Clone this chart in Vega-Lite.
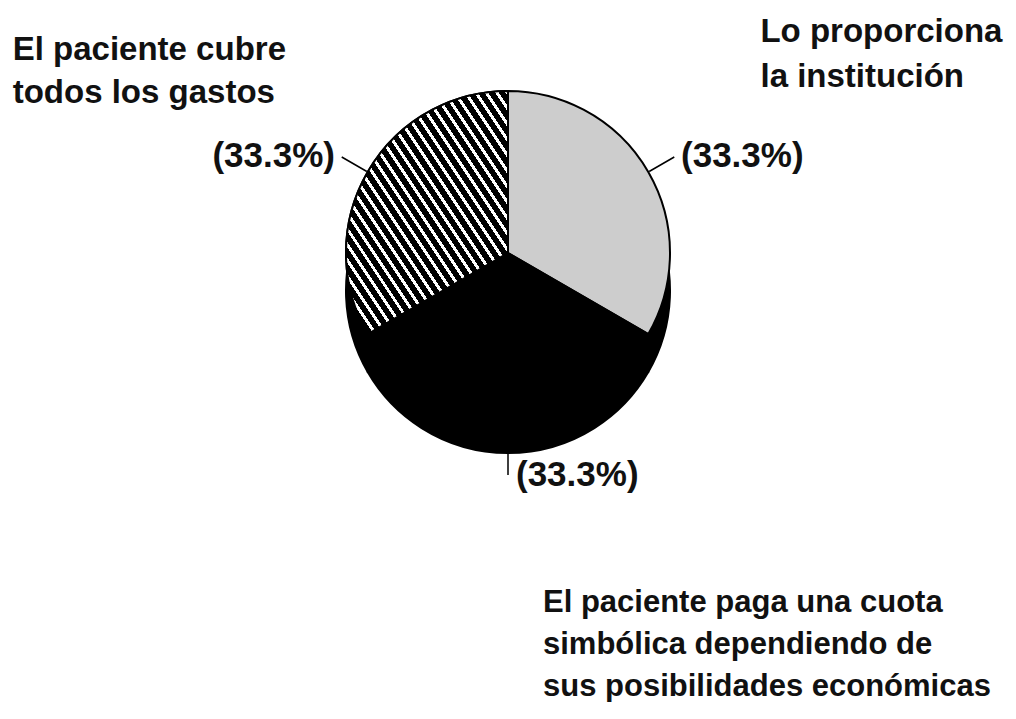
{
  "$schema": "https://vega.github.io/schema/vega-lite/v6.json",
  "width": 1016,
  "height": 506,
  "padding": 0,
  "background": "#ffffff",
  "config": {"view": {"stroke": null}, "font": "Liberation Sans"},
  "data": {
    "values": [
      {"categoria": "Lo proporciona la institución", "etiqueta": "Lo proporciona\nla institución", "valor": 33.3},
      {"categoria": "El paciente paga una cuota simbólica dependiendo de sus posibilidades económicas", "etiqueta": "El paciente paga una cuota\nsimbólica dependiendo de\nsus posibilidades económicas", "valor": 33.3},
      {"categoria": "El paciente cubre todos los gastos", "etiqueta": "El paciente cubre\ntodos los gastos", "valor": 33.3}
    ]
  },
  "transform": [
    {"stack": "valor", "groupby": [], "offset": "normalize", "sort": [{"field": "categoria", "order": "descending"}], "as": ["v0", "v1"]},
    {"calculate": "(datum.v0 + datum.v1) / 2", "as": "vmid"},
    {"calculate": "'(' + format(datum.valor, '.1f') + '%)'", "as": "pct"}
  ],
  "layer": [
    {
      "mark": {"type": "arc", "radius": 162, "yOffset": 38, "fill": "#000000", "stroke": "#000000", "strokeWidth": 2},
      "encoding": {
        "theta": {"field": "v0", "type": "quantitative", "scale": {"domain": [0, 1]}},
        "theta2": {"field": "v1"}
      }
    },
    {
      "mark": {"type": "arc", "radius": 162, "stroke": "#000000", "strokeWidth": 2},
      "encoding": {
        "theta": {"field": "v0", "type": "quantitative", "scale": {"domain": [0, 1]}},
        "theta2": {"field": "v1"},
        "color": {
          "field": "categoria",
          "type": "nominal",
          "legend": null,
          "scale": {
            "domain": ["Lo proporciona la institución", "El paciente paga una cuota simbólica dependiendo de sus posibilidades económicas", "El paciente cubre todos los gastos"],
            "range": ["#cdcdcd", "#000000", "#4d4d4d"]
          }
        }
      }
    },
    {
      "transform": [{"filter": "datum.categoria === 'El paciente cubre todos los gastos'"}],
      "mark": {
        "type": "arc",
        "radius": 162,
        "stroke": "#000000",
        "strokeWidth": 2,
        "fill": {
          "gradient": "linear",
          "x1": 0, "y1": 1, "x2": 1, "y2": 0,
          "stops": [
            {"offset": 0, "color": "#000"}, {"offset": 0.02097, "color": "#000"}, {"offset": 0.02097, "color": "#fff"}, {"offset": 0.03226, "color": "#fff"},
            {"offset": 0.03226, "color": "#000"}, {"offset": 0.05323, "color": "#000"}, {"offset": 0.05323, "color": "#fff"}, {"offset": 0.06452, "color": "#fff"},
            {"offset": 0.06452, "color": "#000"}, {"offset": 0.08548, "color": "#000"}, {"offset": 0.08548, "color": "#fff"}, {"offset": 0.09677, "color": "#fff"},
            {"offset": 0.09677, "color": "#000"}, {"offset": 0.11774, "color": "#000"}, {"offset": 0.11774, "color": "#fff"}, {"offset": 0.12903, "color": "#fff"},
            {"offset": 0.12903, "color": "#000"}, {"offset": 0.15, "color": "#000"}, {"offset": 0.15, "color": "#fff"}, {"offset": 0.16129, "color": "#fff"},
            {"offset": 0.16129, "color": "#000"}, {"offset": 0.18226, "color": "#000"}, {"offset": 0.18226, "color": "#fff"}, {"offset": 0.19355, "color": "#fff"},
            {"offset": 0.19355, "color": "#000"}, {"offset": 0.21452, "color": "#000"}, {"offset": 0.21452, "color": "#fff"}, {"offset": 0.22581, "color": "#fff"},
            {"offset": 0.22581, "color": "#000"}, {"offset": 0.24677, "color": "#000"}, {"offset": 0.24677, "color": "#fff"}, {"offset": 0.25806, "color": "#fff"},
            {"offset": 0.25806, "color": "#000"}, {"offset": 0.27903, "color": "#000"}, {"offset": 0.27903, "color": "#fff"}, {"offset": 0.29032, "color": "#fff"},
            {"offset": 0.29032, "color": "#000"}, {"offset": 0.31129, "color": "#000"}, {"offset": 0.31129, "color": "#fff"}, {"offset": 0.32258, "color": "#fff"},
            {"offset": 0.32258, "color": "#000"}, {"offset": 0.34355, "color": "#000"}, {"offset": 0.34355, "color": "#fff"}, {"offset": 0.35484, "color": "#fff"},
            {"offset": 0.35484, "color": "#000"}, {"offset": 0.37581, "color": "#000"}, {"offset": 0.37581, "color": "#fff"}, {"offset": 0.3871, "color": "#fff"},
            {"offset": 0.3871, "color": "#000"}, {"offset": 0.40806, "color": "#000"}, {"offset": 0.40806, "color": "#fff"}, {"offset": 0.41935, "color": "#fff"},
            {"offset": 0.41935, "color": "#000"}, {"offset": 0.44032, "color": "#000"}, {"offset": 0.44032, "color": "#fff"}, {"offset": 0.45161, "color": "#fff"},
            {"offset": 0.45161, "color": "#000"}, {"offset": 0.47258, "color": "#000"}, {"offset": 0.47258, "color": "#fff"}, {"offset": 0.48387, "color": "#fff"},
            {"offset": 0.48387, "color": "#000"}, {"offset": 0.50484, "color": "#000"}, {"offset": 0.50484, "color": "#fff"}, {"offset": 0.51613, "color": "#fff"},
            {"offset": 0.51613, "color": "#000"}, {"offset": 0.5371, "color": "#000"}, {"offset": 0.5371, "color": "#fff"}, {"offset": 0.54839, "color": "#fff"},
            {"offset": 0.54839, "color": "#000"}, {"offset": 0.56935, "color": "#000"}, {"offset": 0.56935, "color": "#fff"}, {"offset": 0.58065, "color": "#fff"},
            {"offset": 0.58065, "color": "#000"}, {"offset": 0.60161, "color": "#000"}, {"offset": 0.60161, "color": "#fff"}, {"offset": 0.6129, "color": "#fff"},
            {"offset": 0.6129, "color": "#000"}, {"offset": 0.63387, "color": "#000"}, {"offset": 0.63387, "color": "#fff"}, {"offset": 0.64516, "color": "#fff"},
            {"offset": 0.64516, "color": "#000"}, {"offset": 0.66613, "color": "#000"}, {"offset": 0.66613, "color": "#fff"}, {"offset": 0.67742, "color": "#fff"},
            {"offset": 0.67742, "color": "#000"}, {"offset": 0.69839, "color": "#000"}, {"offset": 0.69839, "color": "#fff"}, {"offset": 0.70968, "color": "#fff"},
            {"offset": 0.70968, "color": "#000"}, {"offset": 0.73065, "color": "#000"}, {"offset": 0.73065, "color": "#fff"}, {"offset": 0.74194, "color": "#fff"},
            {"offset": 0.74194, "color": "#000"}, {"offset": 0.7629, "color": "#000"}, {"offset": 0.7629, "color": "#fff"}, {"offset": 0.77419, "color": "#fff"},
            {"offset": 0.77419, "color": "#000"}, {"offset": 0.79516, "color": "#000"}, {"offset": 0.79516, "color": "#fff"}, {"offset": 0.80645, "color": "#fff"},
            {"offset": 0.80645, "color": "#000"}, {"offset": 0.82742, "color": "#000"}, {"offset": 0.82742, "color": "#fff"}, {"offset": 0.83871, "color": "#fff"},
            {"offset": 0.83871, "color": "#000"}, {"offset": 0.85968, "color": "#000"}, {"offset": 0.85968, "color": "#fff"}, {"offset": 0.87097, "color": "#fff"},
            {"offset": 0.87097, "color": "#000"}, {"offset": 0.89194, "color": "#000"}, {"offset": 0.89194, "color": "#fff"}, {"offset": 0.90323, "color": "#fff"},
            {"offset": 0.90323, "color": "#000"}, {"offset": 0.92419, "color": "#000"}, {"offset": 0.92419, "color": "#fff"}, {"offset": 0.93548, "color": "#fff"},
            {"offset": 0.93548, "color": "#000"}, {"offset": 0.95645, "color": "#000"}, {"offset": 0.95645, "color": "#fff"}, {"offset": 0.96774, "color": "#fff"},
            {"offset": 0.96774, "color": "#000"}, {"offset": 0.98871, "color": "#000"}, {"offset": 0.98871, "color": "#fff"}, {"offset": 1, "color": "#fff"}
          ]
        }
      },
      "encoding": {
        "theta": {"field": "v0", "type": "quantitative", "scale": {"domain": [0, 1]}},
        "theta2": {"field": "v1"}
      }
    },
    {
      "transform": [{"filter": "datum.categoria !== 'El paciente paga una cuota simbólica dependiendo de sus posibilidades económicas'"}],
      "mark": {"type": "arc", "outerRadius": 192, "innerRadius": 163, "stroke": "#000000", "strokeWidth": 1.5, "fill": null},
      "encoding": {
        "theta": {"field": "vmid", "type": "quantitative", "scale": {"domain": [0, 1]}},
        "theta2": {"field": "vmid"}
      }
    },
    {
      "transform": [{"filter": "datum.categoria === 'El paciente paga una cuota simbólica dependiendo de sus posibilidades económicas'"}],
      "mark": {"type": "arc", "outerRadius": 184, "innerRadius": 163, "yOffset": 38, "stroke": "#000000", "strokeWidth": 1.5, "fill": null},
      "encoding": {
        "theta": {"field": "vmid", "type": "quantitative", "scale": {"domain": [0, 1]}},
        "theta2": {"field": "vmid"}
      }
    },
    {
      "transform": [{"filter": "datum.categoria === 'El paciente cubre todos los gastos'"}],
      "mark": {"type": "text", "align": "right", "baseline": "middle", "dx": -5, "fontSize": 35, "fontWeight": "bold", "color": "#111111"},
      "encoding": {
        "theta": {"field": "vmid", "type": "quantitative", "scale": {"domain": [0, 1]}},
        "radius": {"value": 194},
        "text": {"field": "pct"}
      }
    },
    {
      "transform": [{"filter": "datum.categoria === 'Lo proporciona la institución'"}],
      "mark": {"type": "text", "align": "left", "baseline": "middle", "dx": 5, "fontSize": 35, "fontWeight": "bold", "color": "#111111"},
      "encoding": {
        "theta": {"field": "vmid", "type": "quantitative", "scale": {"domain": [0, 1]}},
        "radius": {"value": 194},
        "text": {"field": "pct"}
      }
    },
    {
      "transform": [{"filter": "datum.categoria === 'El paciente paga una cuota simbólica dependiendo de sus posibilidades económicas'"}],
      "mark": {"type": "text", "align": "left", "baseline": "middle", "dx": 8, "dy": 38, "fontSize": 35, "fontWeight": "bold", "color": "#111111"},
      "encoding": {
        "theta": {"field": "vmid", "type": "quantitative", "scale": {"domain": [0, 1]}},
        "radius": {"value": 184},
        "text": {"field": "pct"}
      }
    },
    {
      "transform": [{"filter": "datum.categoria === 'El paciente cubre todos los gastos'"}],
      "mark": {"type": "text", "align": "left", "baseline": "alphabetic", "dx": -161, "fontSize": 33, "fontWeight": "bold", "lineHeight": 43, "lineBreak": "\n", "color": "#111111"},
      "encoding": {
        "theta": {"field": "vmid", "type": "quantitative", "scale": {"domain": [0, 1]}},
        "radius": {"value": 386},
        "text": {"field": "etiqueta"}
      }
    },
    {
      "transform": [{"filter": "datum.categoria === 'Lo proporciona la institución'"}],
      "mark": {"type": "text", "align": "left", "baseline": "alphabetic", "dx": -113, "fontSize": 33, "fontWeight": "bold", "lineHeight": 45, "lineBreak": "\n", "color": "#111111"},
      "encoding": {
        "theta": {"field": "vmid", "type": "quantitative", "scale": {"domain": [0, 1]}},
        "radius": {"value": 422},
        "text": {"field": "etiqueta"}
      }
    },
    {
      "transform": [{"filter": "datum.categoria === 'El paciente paga una cuota simbólica dependiendo de sus posibilidades económicas'"}],
      "mark": {"type": "text", "align": "left", "baseline": "alphabetic", "dx": 35, "fontSize": 31, "fontWeight": "bold", "lineHeight": 42, "lineBreak": "\n", "color": "#111111"},
      "encoding": {
        "theta": {"field": "vmid", "type": "quantitative", "scale": {"domain": [0, 1]}},
        "radius": {"value": 359},
        "text": {"field": "etiqueta"}
      }
    }
  ]
}
